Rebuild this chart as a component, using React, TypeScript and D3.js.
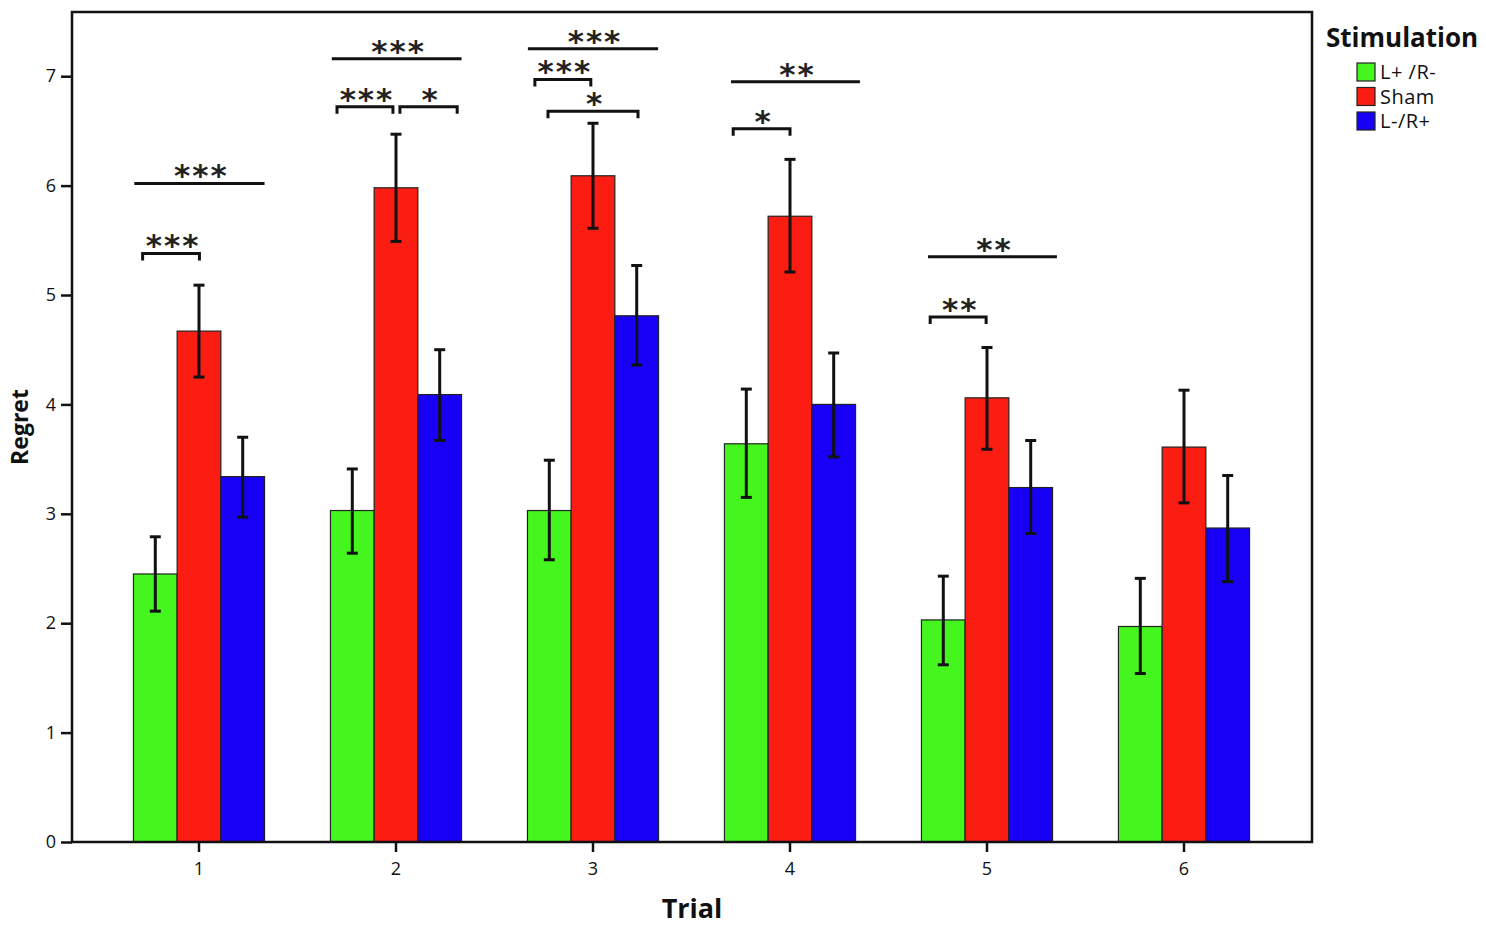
import React, { useEffect, useRef } from 'react';
import * as d3 from 'd3';

// Trials and stimulation groups
const trials = ['1', '2', '3', '4', '5', '6'];
const groups = ['L+ /R-', 'Sham', 'L-/R+'];
const groupColors = ['#45f51e', '#fb1d12', '#1800f6'];

// Mean regret per trial, one array per group
const meanLR = [2.45, 3.03, 3.03, 3.64, 2.03, 1.97];
const meanSham = [4.67, 5.98, 6.09, 5.72, 4.06, 3.61];
const meanRL = [3.34, 4.09, 4.81, 4.00, 3.24, 2.87];

// Error bar bounds (low / high)
const lowLR = [2.11, 2.64, 2.58, 3.15, 1.62, 1.54];
const highLR = [2.79, 3.41, 3.49, 4.14, 2.43, 2.41];
const lowSham = [4.25, 5.49, 5.61, 5.21, 3.59, 3.10];
const highSham = [5.09, 6.47, 6.57, 6.24, 4.52, 4.13];
const lowRL = [2.97, 3.67, 4.36, 3.52, 2.82, 2.38];
const highRL = [3.70, 4.50, 5.27, 4.47, 3.67, 3.35];

const yTicks = [0, 1, 2, 3, 4, 5, 6, 7];

// Significance marks: trial, span in bar widths around trial centre, level, stars, bracket?
const sigTrial = ['1', '1', '2', '2', '2', '3', '3', '3', '4', '4', '5', '5'];
const sigFrom = [-1.48, -1.29, -1.47, -1.35, 0.09, -1.49, -1.33, -1.03, -1.35, -1.3, -1.35, -1.3];
const sigTo = [1.5, 0.01, 1.5, -0.07, 1.4, 1.49, -0.05, 1.03, 1.6, 0, 1.6, -0.02];
const sigLevel = [6.02, 5.38, 7.16, 6.72, 6.72, 7.25, 6.97, 6.68, 6.95, 6.52, 5.35, 4.8];
const sigStars = ['***', '***', '***', '***', '*', '***', '***', '*', '**', '*', '**', '**'];
const sigBracket = [false, true, false, true, true, false, true, true, false, true, false, true];

const means = [meanLR, meanSham, meanRL];
const lows = [lowLR, lowSham, lowRL];
const highs = [highLR, highSham, highRL];

const W = 1486;
const H = 927;
const frame = { left: 72, top: 12, right: 1312, bottom: 842 };
const FONT = '"Open Sans", "DejaVu Sans", sans-serif';

const App: React.FC = () => {
  const svgRef = useRef<SVGSVGElement>(null);

  useEffect(() => {
    document.body.style.margin = '0';
    if (!svgRef.current) return;
    const svg = d3.select(svgRef.current);
    svg.selectAll('*').remove();

    const x0 = d3.scaleBand<string>()
      .domain(trials)
      .range([frame.left + 28.5, frame.right - 29.5]);

    const barW = 43.7;
    const x1 = d3.scaleBand<string>()
      .domain(groups)
      .range([-barW * 1.5, barW * 1.5]);

    const y = d3.scaleLinear()
      .domain([0, 7.587])
      .range([frame.bottom, frame.top]);

    const centre = (t: string) => (x0(t) ?? 0) + x0.bandwidth() / 2;

    // Bars
    groups.forEach((gName, gi) => {
      svg.append('g')
        .selectAll('rect')
        .data(trials)
        .enter()
        .append('rect')
        .attr('x', t => centre(t) + (x1(gName) ?? 0))
        .attr('y', (_, i) => y(means[gi][i]))
        .attr('width', x1.bandwidth())
        .attr('height', (_, i) => frame.bottom - y(means[gi][i]))
        .attr('fill', groupColors[gi])
        .attr('stroke', '#222')
        .attr('stroke-width', 1.2);
    });

    // Error bars
    groups.forEach((gName, gi) => {
      const eg = svg.append('g').attr('stroke', '#111').attr('stroke-width', 3);
      trials.forEach((t, i) => {
        const cx = centre(t) + (x1(gName) ?? 0) + x1.bandwidth() / 2;
        eg.append('line')
          .attr('x1', cx).attr('x2', cx)
          .attr('y1', y(lows[gi][i])).attr('y2', y(highs[gi][i]));
        [lows[gi][i], highs[gi][i]].forEach(v => {
          eg.append('line')
            .attr('x1', cx - 5.5).attr('x2', cx + 5.5)
            .attr('y1', y(v)).attr('y2', y(v));
        });
      });
    });

    // Significance lines and brackets
    const sg = svg.append('g');
    sigTrial.forEach((t, i) => {
      const xa = centre(t) + sigFrom[i] * barW;
      const xb = centre(t) + sigTo[i] * barW;
      const yy = y(sigLevel[i]);
      const d = sigBracket[i]
        ? `M${xa},${yy + 7}V${yy}H${xb}V${yy + 7}`
        : `M${xa},${yy}H${xb}`;
      sg.append('path')
        .attr('d', d)
        .attr('fill', 'none')
        .attr('stroke', '#111')
        .attr('stroke-width', 3);
      sg.append('text')
        .attr('x', (xa + xb) / 2 + 2)
        .attr('y', yy + 3)
        .attr('text-anchor', 'middle')
        .attr('font-family', '"DejaVu Sans", sans-serif')
        .attr('font-weight', 'bold')
        .attr('font-size', 31)
        .attr('letter-spacing', 2)
        .attr('fill', '#222')
        .text(sigStars[i]);
    });

    // Frame
    svg.append('rect')
      .attr('x', frame.left)
      .attr('y', frame.top)
      .attr('width', frame.right - frame.left)
      .attr('height', frame.bottom - frame.top)
      .attr('fill', 'none')
      .attr('stroke', '#111')
      .attr('stroke-width', 2.5);

    // Y axis
    const yAxis = svg.append('g')
      .attr('transform', `translate(${frame.left},0)`)
      .call(d3.axisLeft(y).tickValues(yTicks).tickSize(11).tickPadding(5).tickFormat(d3.format('d')));
    yAxis.select('.domain').remove();
    yAxis.selectAll('.tick line').attr('stroke', '#111').attr('stroke-width', 2.5);
    yAxis.selectAll('text')
      .attr('font-family', FONT)
      .attr('font-size', 18)
      .attr('fill', '#111');

    // X axis
    const xAxis = svg.append('g')
      .attr('transform', `translate(0,${frame.bottom})`)
      .call(d3.axisBottom(x0).tickSize(10).tickPadding(10));
    xAxis.select('.domain').remove();
    xAxis.selectAll('.tick line').attr('stroke', '#111').attr('stroke-width', 2.5);
    xAxis.selectAll('text')
      .attr('font-family', FONT)
      .attr('font-size', 18)
      .attr('fill', '#111');

    // Axis titles
    svg.append('text')
      .attr('x', 692)
      .attr('y', 918)
      .attr('text-anchor', 'middle')
      .attr('font-family', FONT)
      .attr('font-weight', 'bold')
      .attr('font-size', 27)
      .attr('fill', '#111')
      .text('Trial');

    svg.append('text')
      .attr('transform', 'translate(28,427) rotate(-90)')
      .attr('text-anchor', 'middle')
      .attr('font-family', FONT)
      .attr('font-weight', 'bold')
      .attr('font-size', 23)
      .attr('fill', '#111')
      .text('Regret');

    // Legend
    const lg = svg.append('g').attr('transform', 'translate(1326,0)');
    lg.append('text')
      .attr('x', 0)
      .attr('y', 47)
      .attr('font-family', FONT)
      .attr('font-weight', 'bold')
      .attr('font-size', 26)
      .attr('fill', '#111')
      .text('Stimulation');
    groups.forEach((gName, gi) => {
      const row = lg.append('g').attr('transform', `translate(31,${63 + gi * 24.5})`);
      row.append('rect')
        .attr('width', 18)
        .attr('height', 18)
        .attr('fill', groupColors[gi])
        .attr('stroke', '#222')
        .attr('stroke-width', 1.2);
      row.append('text')
        .attr('x', 23)
        .attr('y', 16)
        .attr('font-family', FONT)
        .attr('font-size', 20)
        .attr('letter-spacing', 0.5)
        .attr('fill', '#111')
        .text(gName);
    });
  }, []);

  return (
    <svg ref={svgRef} width={W} height={H} style={{ display: 'block', background: '#fff' }} />
  );
};

export default App;
